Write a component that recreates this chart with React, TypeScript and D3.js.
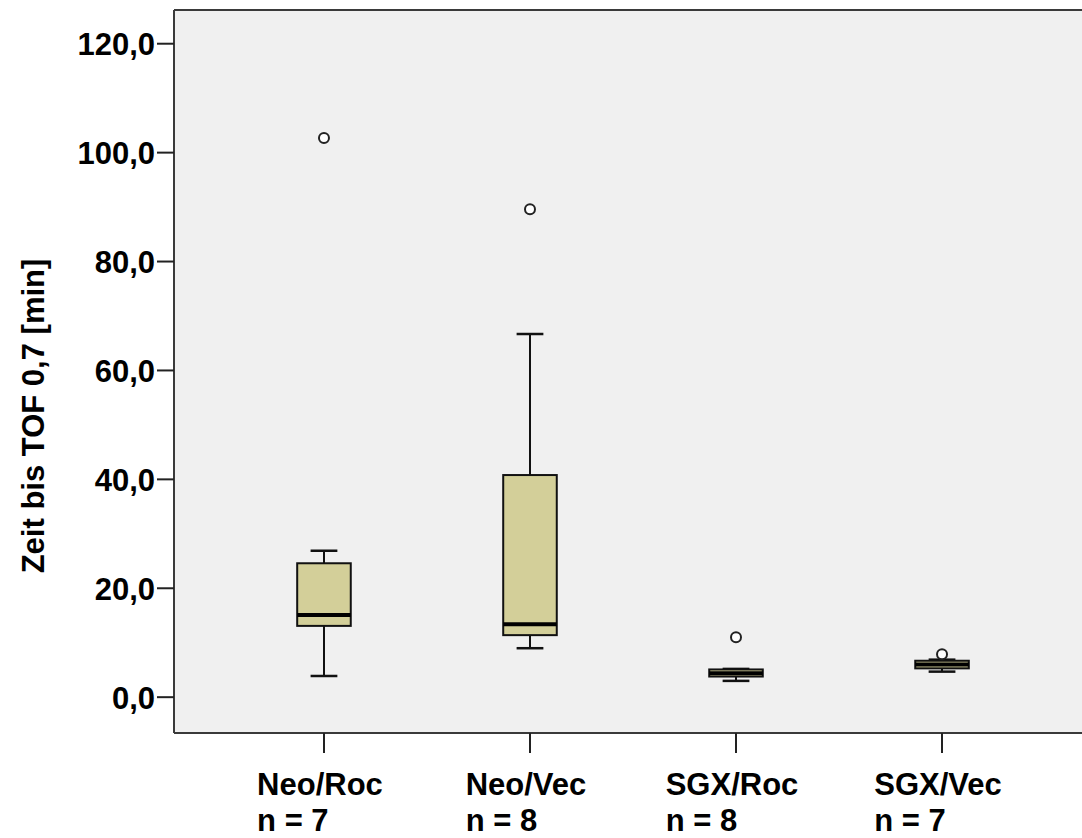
import React, { useRef, useEffect } from "react";
import * as d3 from "d3";

// groups and box statistics (minutes)
const groups = ["Neo/Roc", "Neo/Vec", "SGX/Roc", "SGX/Vec"];
const counts = [7, 8, 8, 7];
const whiskerLow = [3.8, 8.9, 2.9, 4.6];
const q1 = [13.0, 11.3, 3.7, 5.2];
const median = [15.0, 13.3, 4.3, 5.9];
const q3 = [24.5, 40.7, 5.0, 6.6];
const whiskerHigh = [26.8, 66.6, 5.1, 6.8];
const outliers = [[102.6], [89.5], [10.9], [7.8]];
const yTicks = [0, 20, 40, 60, 80, 100, 120];
const yLimits = [-6.67, 126.1];
const yTitle = "Zeit bis TOF 0,7 [min]";

const W = 1082;
const H = 838;
const FONT = "'Liberation Sans', Arial, sans-serif";

export default function App() {
  const svgRef = useRef<SVGSVGElement>(null);

  useEffect(() => {
    const svg = d3.select(svgRef.current);
    svg.selectAll("*").remove();

    const left = 174, top = 10, bottom = 733, right = 1092;

    const x = d3.scalePoint<string>().domain(groups).range([left, right]).padding(0.728);
    const y = d3.scaleLinear().domain(yLimits).range([bottom, top]);

    const boxW = x.step() * 0.26;
    const capW = boxW / 2;

    // plot background
    svg.append("rect")
      .attr("x", left).attr("y", top)
      .attr("width", right - left).attr("height", bottom - top)
      .attr("fill", "#f0f0f0");

    // frame, right edge falls outside the picture
    const frame = svg.append("g").attr("stroke", "#3a3a3a").attr("stroke-width", 2).attr("fill", "none");
    frame.append("line").attr("x1", left).attr("x2", W).attr("y1", top).attr("y2", top);
    frame.append("line").attr("x1", left).attr("x2", W).attr("y1", bottom).attr("y2", bottom);
    frame.append("line").attr("x1", left).attr("x2", left).attr("y1", top).attr("y2", bottom);

    // y axis
    const fmt = (v: number) => d3.format(".1f")(v).replace(".", ",");
    const yAxis = d3.axisLeft(y).tickValues(yTicks).tickSize(17).tickPadding(2).tickFormat((d) => fmt(d as number));
    const gy = svg.append("g").attr("transform", `translate(${left},0)`).call(yAxis);
    gy.select(".domain").remove();
    gy.selectAll(".tick line").attr("stroke", "#222").attr("stroke-width", 2);
    gy.selectAll(".tick text")
      .attr("fill", "#000")
      .attr("dy", "0.38em")
      .style("font-family", FONT)
      .style("font-size", "31px")
      .style("font-weight", "bold");

    // y title
    svg.append("text")
      .attr("transform", `translate(44,416) rotate(-90)`)
      .attr("text-anchor", "middle")
      .style("font-family", FONT)
      .style("font-size", "31px")
      .style("font-weight", "bold")
      .text(yTitle);

    // x ticks and two-line labels
    groups.forEach((g, i) => {
      const cx = x(g) as number;
      svg.append("line")
        .attr("x1", cx).attr("x2", cx).attr("y1", bottom).attr("y2", bottom + 20)
        .attr("stroke", "#222").attr("stroke-width", 2);
      const t1 = svg.append("text")
        .attr("x", cx - 4).attr("y", 795)
        .attr("text-anchor", "middle")
        .style("font-family", FONT).style("font-size", "31px").style("font-weight", "bold")
        .text(g);
      const w = (t1.node() as SVGTextElement).getComputedTextLength();
      svg.append("text")
        .attr("x", cx - 4 - w / 2).attr("y", 831)
        .style("font-family", FONT).style("font-size", "31px").style("font-weight", "bold")
        .text("n = " + counts[i]);
    });

    // boxes
    const boxes = svg.append("g");
    groups.forEach((g, i) => {
      const cx = x(g) as number;
      const b = boxes.append("g");
      b.append("line").attr("x1", cx).attr("x2", cx).attr("y1", y(whiskerHigh[i])).attr("y2", y(q3[i]))
        .attr("stroke", "#111").attr("stroke-width", 2);
      b.append("line").attr("x1", cx).attr("x2", cx).attr("y1", y(q1[i])).attr("y2", y(whiskerLow[i]))
        .attr("stroke", "#111").attr("stroke-width", 2);
      [whiskerHigh[i], whiskerLow[i]].forEach((v) => {
        b.append("line").attr("x1", cx - capW / 2).attr("x2", cx + capW / 2).attr("y1", y(v)).attr("y2", y(v))
          .attr("stroke", "#111").attr("stroke-width", 2.5);
      });
      b.append("rect")
        .attr("x", cx - boxW / 2).attr("y", y(q3[i]))
        .attr("width", boxW).attr("height", y(q1[i]) - y(q3[i]))
        .attr("fill", "#d3cf99").attr("stroke", "#111").attr("stroke-width", 2);
      b.append("line").attr("x1", cx - boxW / 2).attr("x2", cx + boxW / 2)
        .attr("y1", y(median[i])).attr("y2", y(median[i]))
        .attr("stroke", "#000").attr("stroke-width", 4);
      outliers[i].forEach((v) => {
        b.append("circle").attr("cx", cx).attr("cy", y(v)).attr("r", 5)
          .attr("fill", "#fff").attr("stroke", "#222").attr("stroke-width", 2);
      });
    });
  }, []);

  return (
    <svg
      ref={svgRef}
      width={W}
      height={H}
      style={{ position: "absolute", left: 0, top: 0, background: "#fff" }}
    />
  );
}
